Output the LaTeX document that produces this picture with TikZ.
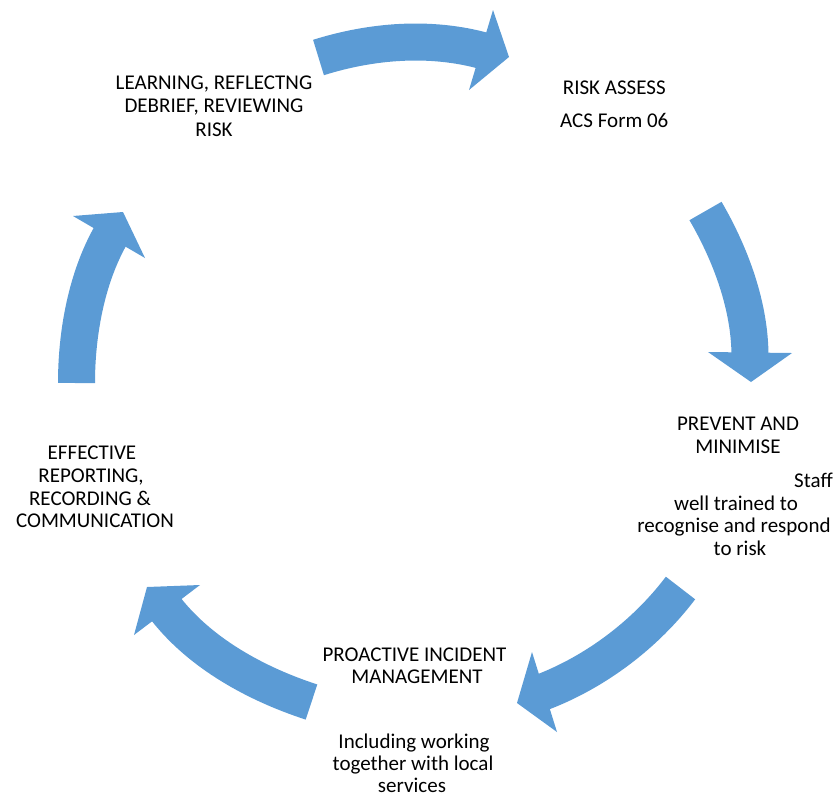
\documentclass[tikz,border=0pt]{standalone}
\usepackage{fontspec}
\setmainfont{Carlito}
\definecolor{arrowblue}{HTML}{5B9BD5}
\tikzset{
  shaft/.style={draw=arrowblue, line width=37pt, line cap=butt},
  head/.style={fill=arrowblue, draw=none},
  lbl/.style={anchor=base, inner sep=0pt, font=\fontsize{21}{23}\selectfont, text=black},
}
\begin{document}
\begin{tikzpicture}[x=1pt,y=-1pt]
\useasboundingbox (0,0) rectangle (840,796);
% top arrow
\coordinate (t0) at (318.5,57.5);
\coordinate (t1) at (484.5,51.1);
\draw[shaft] (t0) .. controls (371.9,40.7) and (430.6,36.1) .. (t1);
\fill[head] (493,10) -- (509,57) -- (469,90) -- cycle;
% right arrow
\coordinate (r0) at (705.5,211);
\coordinate (r1) at (750,356.5);
\draw[shaft] (r0) .. controls (730.6,254.2) and (750,306) .. (r1);
\fill[head] (708,352) -- (751,382) -- (792,353) -- cycle;
% bottom-right arrow
\coordinate (b0) at (680.5,588);
\coordinate (b1) at (541.8,692.4);
\draw[shaft] (b0) .. controls (645.5,634.2) and (596,671.7) .. (b1);
\fill[head] (532,652) -- (517,703) -- (557,732) -- cycle;
% bottom-left arrow
\coordinate (c0) at (311.5,702);
\coordinate (c1) at (164.6,607.3);
\draw[shaft] (c0) .. controls (256.3,684.1) and (199.9,653.3) .. (c1);
\fill[head] (200,585) -- (147,587) -- (134,635) -- cycle;
% left arrow
\coordinate (l0) at (76.5,383);
\coordinate (l1) at (111.5,234);
\draw[shaft] (l0) .. controls (76.5,333) and (86.5,277.4) .. (l1);
\fill[head] (73,216) -- (123,212) -- (145,258) -- cycle;
% labels
\node[lbl] (a1) at (214,89.3) {LEARNING, REFLECTNG};
\node[lbl] (a2) at (214,112.7) {DEBRIEF, REVIEWING};
\node[lbl] (a3) at (214,136) {RISK};
\node[lbl] (b1t) at (614.3,94.3) {RISK ASSESS};
\node[lbl] (b2t) at (614.3,127.7) {ACS Form 06};
\node[lbl] (p1) at (738,430.7) {PREVENT AND};
\node[lbl] (p2) at (738,453.3) {MINIMISE};
\node[lbl, anchor=base east] (p3) at (833,487.3) {Staff};
\node[lbl] (p4) at (736,510) {well trained to};
\node[lbl] (p5) at (734,532.5) {recognise and respond};
\node[lbl] (p6) at (740,555) {to risk};
\node[lbl] (e1) at (92,459.3) {EFFECTIVE};
\node[lbl] (e2) at (91,482.3) {REPORTING,};
\node[lbl] (e3) at (90,505) {RECORDING \&};
\node[lbl] (e4) at (95,527.5) {COMMUNICATION};
\node[lbl] (m1) at (414.5,661) {PROACTIVE INCIDENT};
\node[lbl] (m2) at (417,683.5) {MANAGEMENT};
\node[lbl] (m3) at (414,748) {Including working};
\node[lbl] (m4) at (413,770) {together with local};
\node[lbl] (m5) at (412,792) {services};
\end{tikzpicture}
\end{document}
